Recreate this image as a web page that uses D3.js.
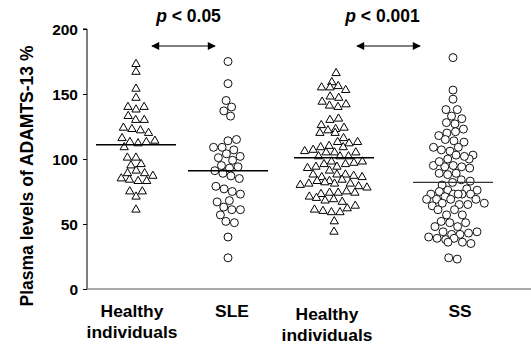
<!DOCTYPE html>
<html><head><meta charset="utf-8">
<script src="https://cdn.jsdelivr.net/npm/d3@7"></script>
<style>
body{margin:0;background:#fff}
svg{display:block}
text{font-family:"Liberation Sans",Arial,Helvetica,sans-serif;font-weight:bold;fill:#000}
</style></head><body>
<svg width="531" height="344"></svg>
<script>
// ---------- data ----------
const categories = ["Healthy individuals A", "SLE", "Healthy individuals B", "SS"];
const categoryLabels = [["Healthy", "individuals"], ["SLE"], ["Healthy", "individuals"], ["SS"]];
const categoryShapes = ["triangle", "circle", "triangle", "circle"];

const healthyA = [173, 167, 154, 147, 140, 138, 140, 133, 130, 130, 122, 123, 124, 120, 116, 114, 112, 113, 113, 109,
  101, 101, 95, 96, 91, 89, 87, 84, 85, 89, 83, 83, 75, 75, 71, 61];
const sle = [175, 158, 145, 140, 137, 133, 114, 115, 107, 109, 109, 104, 102, 101, 99, 95, 94, 93, 91, 89,
  87, 85, 79, 77, 75, 73, 68, 67, 63, 61, 61, 57, 52, 51, 40, 24];
const healthyB = [166, 159, 156, 155, 155, 153, 148, 147, 144, 142, 141, 140, 130, 131, 126, 124, 122, 123, 120, 120,
  116, 113, 113, 112, 110, 109, 107, 109, 105, 105, 106, 105, 102, 102, 102, 98, 98, 97, 96, 96,
  94, 94, 93, 91, 88, 88, 87, 88, 86, 86, 84, 83, 81, 81, 83, 80, 81, 82, 79, 78,
  74, 74, 74, 75, 73, 71, 68, 70, 69, 67, 64, 62, 60, 59, 61, 59, 52, 44];
const ss = [178, 153, 146, 138, 138, 133, 131, 128, 127, 123, 120, 118, 121, 114, 115, 113, 109, 109, 106, 107,
  103, 103, 100, 100, 102, 93, 94, 95, 94, 95, 98, 88, 89, 89, 82, 83, 84, 80, 77, 75,
  76, 76, 73, 73, 73, 71, 73, 73, 69, 69, 69, 69, 66, 66, 64, 65, 65, 61, 61, 57,
  57, 52, 51, 51, 48, 48, 44, 44, 43, 42, 42, 39, 39, 38, 40, 36, 35, 36, 23, 24];
const seriesValues = [healthyA, sle, healthyB, ss];
const groupMeans = [111, 91, 101, 82];
const yTicks = [0, 50, 100, 150, 200];
const comparisons = [
  { from: "Healthy individuals A", to: "SLE", p: "0.05" },
  { from: "Healthy individuals B", to: "SS", p: "0.001" }
];

// ---------- layout ----------
const svg = d3.select("svg");
const y = d3.scaleLinear().domain([0, 200]).range([289, 29]);
const x = d3.scaleOrdinal().domain(categories).range([136, 228, 334, 453]);
const labelShift = [-4, 4, -7, 7];
const labelBase = [317, 317, 320, 317];
const axisX = 87;

// y axis
const yAxis = d3.axisLeft(y).tickValues(yTicks).tickSize(4).tickPadding(5).tickFormat(d3.format("d"));
const ga = svg.append("g").attr("transform", `translate(${axisX},0)`).call(yAxis);
ga.select(".domain").attr("stroke", "#000").attr("stroke-width", 1).attr("d", `M-4,${y(200)}H0V${y(0)}`);
ga.selectAll(".tick line").attr("stroke", "#000");
ga.selectAll(".tick text").style("font-size", "15.5px").style("font-weight", "bold").attr("fill", "#000").attr("dy", "0.36em");

// x axis baseline
svg.append("line").attr("x1", axisX).attr("x2", 531).attr("y1", y(0)).attr("y2", y(0))
  .attr("stroke", "#555").attr("stroke-width", 1.2);

// y title
svg.append("text").attr("transform", `translate(33,${176}) rotate(-90)`)
  .attr("text-anchor", "middle").style("font-size", "17.5px").text("Plasma levels of ADAMTS-13 %");

// x labels
categories.forEach((c, i) => {
  const t = svg.append("text").attr("text-anchor", "middle").style("font-size", "17.4px")
    .attr("x", x(c) + labelShift[i]).attr("y", labelBase[i]);
  categoryLabels[i].forEach((line, j) => {
    t.append("tspan").attr("x", x(c) + labelShift[i]).attr("dy", j === 0 ? 0 : 21).text(line);
  });
});

// points (beeswarm)
const tri = d3.symbol().type(d3.symbolTriangle).size(30);
categories.forEach((c, i) => {
  const cx = x(c);
  const nodes = seriesValues[i].map(v => ({ v, x: cx, y: y(v) }));
  d3.forceSimulation(nodes)
    .force("x", d3.forceX(cx).strength(0.04))
    .force("y", d3.forceY(d => y(d.v)).strength(1))
    .force("c", d3.forceCollide(4.3))
    .stop().tick(300);
  const g = svg.append("g");
  if (categoryShapes[i] === "triangle") {
    g.selectAll("path").data(nodes).join("path")
      .attr("d", tri).attr("transform", d => `translate(${d.x},${y(d.v)})`)
      .attr("fill", "#fff").attr("stroke", "#000").attr("stroke-width", 1);
  } else {
    g.selectAll("circle").data(nodes).join("circle")
      .attr("cx", d => d.x).attr("cy", d => y(d.v)).attr("r", 4)
      .attr("fill", "#fff").attr("stroke", "#111").attr("stroke-width", 1);
  }
  // mean line
  svg.append("line").attr("x1", cx - 40).attr("x2", cx + 40)
    .attr("y1", y(groupMeans[i])).attr("y2", y(groupMeans[i]))
    .attr("stroke", i === 3 ? "#333" : "#000").attr("stroke-width", i === 3 ? 1.2 : 1.6);
});

// comparisons
const defs = svg.append("defs");
defs.append("marker").attr("id", "ah").attr("viewBox", "0 0 10 10").attr("refX", 9).attr("refY", 5)
  .attr("markerWidth", 9).attr("markerHeight", 8).attr("markerUnits", "userSpaceOnUse").attr("orient", "auto-start-reverse")
  .append("path").attr("d", "M0,0L10,5L0,10Z").attr("fill", "#000");
const arrowInset = [[16, 13], [23, 33]];
const textShift = [5, -6];
comparisons.forEach((cmp, k) => {
  const x1 = x(cmp.from) + arrowInset[k][0], x2 = x(cmp.to) - arrowInset[k][1];
  svg.append("line").attr("x1", x1).attr("x2", x2).attr("y1", 46).attr("y2", 46)
    .attr("stroke", "#000").attr("stroke-width", 1.2)
    .attr("marker-start", "url(#ah)").attr("marker-end", "url(#ah)");
  const t = svg.append("text").attr("x", (x1 + x2) / 2 + textShift[k]).attr("y", 22).attr("text-anchor", "middle").style("font-size", "17.5px");
  t.append("tspan").style("font-style", "italic").text("p");
  t.append("tspan").text(" < " + cmp.p);
});
</script></body></html>
